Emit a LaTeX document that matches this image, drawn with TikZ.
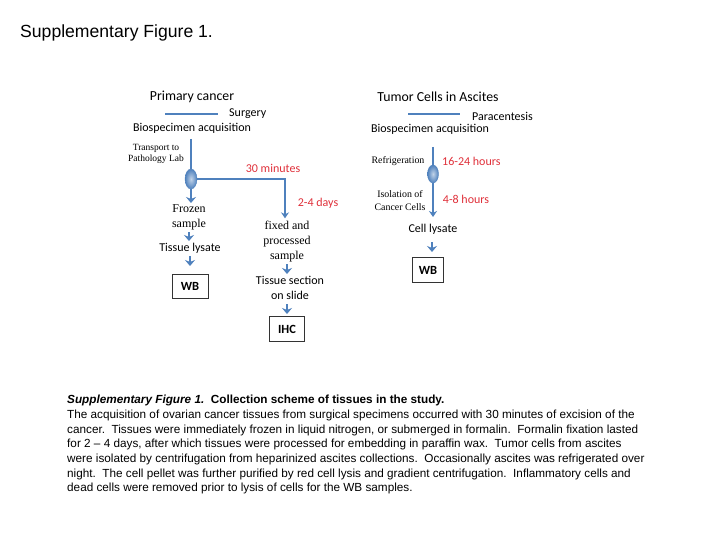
\documentclass[tikz,border=0pt]{standalone}
\usepackage{fontspec}
\setmainfont{Liberation Serif}
\newfontfamily\calib{Carlito}
\newfontfamily\arial{Liberation Sans}
\usetikzlibrary{arrows.meta,shapes.geometric}
\definecolor{flowblue}{HTML}{4F81BD}
\definecolor{timered}{HTML}{E0303A}
\tikzset{
  cal/.style={font=\calib\fontsize{12}{14}\selectfont, inner sep=0pt, align=center},
  calhead/.style={font=\calib\fontsize{13.8}{16}\selectfont, inner sep=0pt},
  tms/.style={font=\fontsize{9.9}{13}\selectfont, inner sep=0pt, align=center},
  tmsb/.style={font=\fontsize{12}{15}\selectfont, inner sep=0pt, align=center},
  redlab/.style={font=\calib\fontsize{12}{14}\selectfont, text=timered, inner sep=0pt},
  flow/.style={draw=flowblue, line width=2pt, -{Stealth[length=6pt,width=8pt]}},
  flowline/.style={draw=flowblue, line width=2pt},
  small/.style={draw=flowblue, line width=2.6pt, -{Stealth[length=6pt,width=10pt,inset=2pt]}},
  bar/.style={draw=flowblue, line width=2.5pt},
  resbox/.style={draw=black!80, line width=0.8pt, font=\calib\bfseries\fontsize{12.5}{14}\selectfont, minimum width=36pt, minimum height=24pt, inner sep=0pt},
  blob/.style={ellipse, minimum width=12pt, minimum height=20pt, inner sep=0pt, shading=radial, inner color=flowblue!35!white, outer color=flowblue, draw=flowblue}
}
\begin{document}
\begin{tikzpicture}[x=1pt,y=-1pt]
\useasboundingbox (0,0) rectangle (720,540);
\fill[white] (0,0) rectangle (720,540);

\node[anchor=west, font=\arial\fontsize{17.6}{20}\selectfont, inner sep=0pt] (title) at (20,33) {Supplementary Figure 1.};

% ---------- left branch ----------
\node[calhead] (pc) at (192,97) {Primary cancer};
\coordinate (b1a) at (165,114);
\coordinate (b1b) at (218,114);
\draw[bar] (b1a) -- (b1b);
\node[cal, anchor=west] (surg) at (229,114) {Surgery};
\node[cal] (bio1) at (192,128) {Biospecimen acquisition};
\node[tms, font=\fontsize{9.5}{11.5}\selectfont] (trans) at (156,154) {Transport to\\Pathology Lab};
\node[blob] (ell1) at (191,179) {};
\coordinate (top1) at (191,139);
\draw[flowline] (top1) -- (ell1.north);
\coordinate (corner1) at (285,179);
\node[inner sep=0pt] (fixtop) at (285,219) {};
\draw[flow] (ell1.east) -- (corner1) -- (fixtop.north);
\node[redlab] (m30) at (273,168) {30 minutes};
\node[redlab] (d24) at (318,203) {2-4 days};

\node[tmsb] (frozen) at (189,217) {Frozen\\sample};
\coordinate (fz) at (191,203);
\draw[small] (ell1.south) -- (fz);
\node[cal] (lys1) at (190,248) {Tissue lysate};
\coordinate (a1s) at (189,232); \coordinate (a1e) at (189,241);
\draw[small] (a1s) -- (a1e);
\node[resbox] (wb1) at (190,286) {WB};
\coordinate (a2s) at (190,256); \coordinate (a2e) at (190,266);
\draw[small] (a2s) -- (a2e);

\node[tmsb] (fixed) at (287,242) {fixed and\\processed\\sample};
\node[cal, align=center, font=\calib\fontsize{12}{15}\selectfont] (slide) at (290,288) {Tissue section\\on slide};
\coordinate (a3s) at (287,264); \coordinate (a3e) at (287,274);
\draw[small] (a3s) -- (a3e);
\node[resbox, minimum width=35pt, minimum height=25pt] (ihc) at (287,329) {IHC};
\coordinate (a4s) at (287,304); \coordinate (a4e) at (287,314);
\draw[small] (a4s) -- (a4e);

% ---------- right branch ----------
\node[calhead] (tca) at (438,97) {Tumor Cells in Ascites};
\coordinate (b2a) at (408,114);
\coordinate (b2b) at (460,114);
\draw[bar] (b2a) -- (b2b);
\node[cal, anchor=west] (para) at (472,116) {Paracentesis};
\node[cal] (bio2) at (430,129) {Biospecimen acquisition};
\node[tms] (refr) at (398,161) {Refrigeration};
\node[redlab, anchor=west] (h1624) at (442,161) {16-24 hours};
\node[blob, minimum width=11pt, minimum height=18pt] (ell2) at (433,174) {};
\coordinate (top2) at (433,147);
\draw[flowline] (top2) -- (ell2.north);
\node[tms] (iso) at (400,201) {Isolation of\\Cancer Cells};
\node[redlab] (h48) at (466,199) {4-8 hours};
\coordinate (tip2) at (433,217);
\draw[flow] (ell2.south) -- (tip2);
\node[cal] (lys2) at (433,229) {Cell lysate};
\node[resbox, minimum width=31pt, minimum height=25pt] (wb2) at (428,270) {WB};
\coordinate (a5s) at (432,242); \coordinate (a5e) at (432,252);
\draw[small] (a5s) -- (a5e);

% ---------- caption ----------
\node[anchor=north west, align=left, inner sep=0pt, font=\arial\fontsize{11.75}{14.7}\selectfont] (cap) at (67,395) {%
\textbf{\textit{Supplementary Figure 1.}\ \ Collection scheme of tissues in the study.}\\
The acquisition of ovarian cancer tissues from surgical specimens occurred with 30 minutes of excision of the\\
cancer.\ \ Tissues were immediately frozen in liquid nitrogen, or submerged in formalin.\ \ Formalin fixation lasted\\
for 2 – 4 days, after which tissues were processed for embedding in paraffin wax.\ \ Tumor cells from ascites\\
were isolated by centrifugation from heparinized ascites collections.\ \ Occasionally ascites was refrigerated over\\
night.\ \ The cell pellet was further purified by red cell lysis and gradient centrifugation.\ \ Inflammatory cells and\\
dead cells were removed prior to lysis of cells for the WB samples.};
\end{tikzpicture}
\end{document}
